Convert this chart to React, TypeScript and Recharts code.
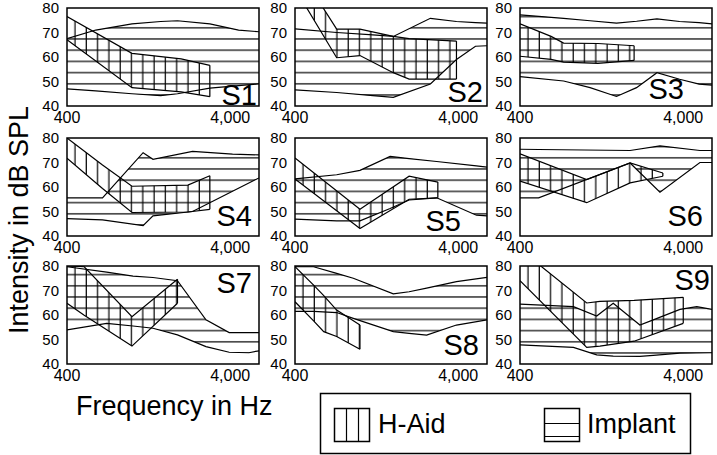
import React from 'react';
import { ComposedChart, Area, XAxis, YAxis, ReferenceArea, ReferenceLine } from 'recharts';

type Pt = { f: number; lo: number; hi: number };

// H-Aid and Implant ranges per subject: frequency (Hz), lower and upper dB SPL
const s1Aid: Pt[] = [
  { f: 400, lo: 67, hi: 76.5 },
  { f: 1000, lo: 47.5, hi: 61.5 },
  { f: 2000, lo: 45.8, hi: 59.2 },
  { f: 3000, lo: 43.8, hi: 56.6 },
];
const s1Imp: Pt[] = [
  { f: 400, lo: 47, hi: 67.5 },
  { f: 600, lo: 46.2, hi: 71 },
  { f: 1000, lo: 45, hi: 73.5 },
  { f: 1500, lo: 44.2, hi: 74.5 },
  { f: 1900, lo: 45, hi: 74.8 },
  { f: 3000, lo: 47.3, hi: 73.5 },
  { f: 4500, lo: 48.3, hi: 71 },
  { f: 6000, lo: 49, hi: 70.3 },
];

const s2Aid: Pt[] = [
  { f: 400, lo: 88, hi: 98 },
  { f: 720, lo: 59.7, hi: 71.4 },
  { f: 1000, lo: 60.6, hi: 71.4 },
  { f: 1600, lo: 53.6, hi: 68.4 },
  { f: 2000, lo: 51, hi: 67.5 },
  { f: 3900, lo: 51, hi: 66.5 },
];
const s2Imp: Pt[] = [
  { f: 400, lo: 46.6, hi: 71.5 },
  { f: 720, lo: 45.5, hi: 70 },
  { f: 1200, lo: 44.2, hi: 69 },
  { f: 1600, lo: 43.5, hi: 68.4 },
  { f: 2700, lo: 49, hi: 75.8 },
  { f: 3900, lo: 59, hi: 74.5 },
  { f: 5100, lo: 64.4, hi: 74 },
  { f: 6000, lo: 64.6, hi: 73.8 },
];

const s3Aid: Pt[] = [
  { f: 400, lo: 60.3, hi: 73.5 },
  { f: 620, lo: 59, hi: 68.4 },
  { f: 740, lo: 57.9, hi: 65.7 },
  { f: 1200, lo: 57.4, hi: 65.5 },
  { f: 2000, lo: 58.6, hi: 64.6 },
];
const s3Imp: Pt[] = [
  { f: 400, lo: 52, hi: 77.2 },
  { f: 740, lo: 50.2, hi: 75.8 },
  { f: 1075, lo: 47.5, hi: 74.8 },
  { f: 1560, lo: 43.9, hi: 73.8 },
  { f: 2070, lo: 47.5, hi: 74.6 },
  { f: 2760, lo: 53.6, hi: 75.6 },
  { f: 3800, lo: 50.9, hi: 74.5 },
  { f: 5000, lo: 48.9, hi: 74 },
  { f: 6000, lo: 48.5, hi: 73.5 },
];

const s4Aid: Pt[] = [
  { f: 400, lo: 71.8, hi: 80 },
  { f: 660, lo: 59.4, hi: 69 },
  { f: 1000, lo: 49.6, hi: 60.3 },
  { f: 2200, lo: 49.8, hi: 60.8 },
  { f: 3000, lo: 50.9, hi: 64.6 },
];
const s4Imp: Pt[] = [
  { f: 400, lo: 47.1, hi: 55.6 },
  { f: 660, lo: 46.6, hi: 55.6 },
  { f: 1170, lo: 44.2, hi: 74 },
  { f: 1345, lo: 48.2, hi: 71.3 },
  { f: 2350, lo: 50, hi: 74.5 },
  { f: 4130, lo: 58.3, hi: 73.4 },
  { f: 6000, lo: 63.7, hi: 73.1 },
];

const s5Aid: Pt[] = [
  { f: 400, lo: 63.3, hi: 71.8 },
  { f: 1000, lo: 43.1, hi: 50.9 },
  { f: 2000, lo: 55, hi: 64.4 },
  { f: 3000, lo: 55.6, hi: 62 },
];
const s5Imp: Pt[] = [
  { f: 400, lo: 46.9, hi: 63.3 },
  { f: 720, lo: 46.2, hi: 65 },
  { f: 1000, lo: 46.2, hi: 66.8 },
  { f: 1530, lo: 51.2, hi: 72.5 },
  { f: 2000, lo: 54.7, hi: 71.6 },
  { f: 2950, lo: 55.6, hi: 70.4 },
  { f: 5170, lo: 48.5, hi: 68.6 },
  { f: 6000, lo: 48.2, hi: 68.1 },
];

const s6Aid: Pt[] = [
  { f: 400, lo: 62.4, hi: 73.5 },
  { f: 1025, lo: 53.6, hi: 63 },
  { f: 1890, lo: 61.7, hi: 69.8 },
  { f: 3000, lo: 64.4, hi: 65.7 },
];
const s6Imp: Pt[] = [
  { f: 400, lo: 55.6, hi: 75.4 },
  { f: 520, lo: 55.6, hi: 75.3 },
  { f: 1890, lo: 69.8, hi: 74.9 },
  { f: 2880, lo: 57.9, hi: 76.8 },
  { f: 5060, lo: 70, hi: 74.9 },
  { f: 6000, lo: 70, hi: 74.9 },
];

const s7Aid: Pt[] = [
  { f: 400, lo: 64.8, hi: 80 },
  { f: 510, lo: 59.9, hi: 79.7 },
  { f: 1000, lo: 47.3, hi: 59.3 },
  { f: 1900, lo: 64.8, hi: 74.6 },
];
const s7Imp: Pt[] = [
  { f: 400, lo: 53.9, hi: 79.7 },
  { f: 700, lo: 56.6, hi: 77.5 },
  { f: 1015, lo: 55.5, hi: 75.9 },
  { f: 1345, lo: 54.6, hi: 75.3 },
  { f: 1900, lo: 51.9, hi: 74 },
  { f: 2840, lo: 47.1, hi: 58 },
  { f: 3940, lo: 44.8, hi: 52.8 },
  { f: 5200, lo: 44.6, hi: 52.8 },
  { f: 6000, lo: 45.4, hi: 52.8 },
];

const s8Aid: Pt[] = [
  { f: 400, lo: 65.4, hi: 79.7 },
  { f: 520, lo: 57.6, hi: 72.2 },
  { f: 600, lo: 53.2, hi: 67.9 },
  { f: 720, lo: 51.2, hi: 62 },
  { f: 1000, lo: 46, hi: 55.9 },
];
const s8Imp: Pt[] = [
  { f: 400, lo: 61.5, hi: 79.7 },
  { f: 520, lo: 61.5, hi: 79.7 },
  { f: 720, lo: 61, hi: 77 },
  { f: 910, lo: 58.6, hi: 75 },
  { f: 1600, lo: 53.2, hi: 68.6 },
  { f: 2000, lo: 52.5, hi: 69.5 },
  { f: 2560, lo: 51.8, hi: 71 },
  { f: 3900, lo: 55.9, hi: 73.6 },
  { f: 6000, lo: 58, hi: 75.4 },
];

const s9Aid: Pt[] = [
  { f: 400, lo: 74, hi: 86.8 },
  { f: 1025, lo: 46.8, hi: 64.9 },
  { f: 1235, lo: 47.3, hi: 65.6 },
  { f: 2000, lo: 49.3, hi: 66 },
  { f: 4000, lo: 56.6, hi: 67.2 },
];
const s9Imp: Pt[] = [
  { f: 400, lo: 47.8, hi: 64.4 },
  { f: 850, lo: 46.8, hi: 63.4 },
  { f: 1180, lo: 43.7, hi: 59.6 },
  { f: 1490, lo: 43.2, hi: 64.8 },
  { f: 2170, lo: 43.1, hi: 55.9 },
  { f: 2620, lo: 43.5, hi: 58 },
  { f: 3820, lo: 44.4, hi: 62.3 },
  { f: 4840, lo: 44.5, hi: 63.4 },
  { f: 6000, lo: 44.6, hi: 62.3 },
];

const SUBJECTS = ['S1', 'S2', 'S3', 'S4', 'S5', 'S6', 'S7', 'S8', 'S9'];
const AIDS = [s1Aid, s2Aid, s3Aid, s4Aid, s5Aid, s6Aid, s7Aid, s8Aid, s9Aid];
const IMPS = [s1Imp, s2Imp, s3Imp, s4Imp, s5Imp, s6Imp, s7Imp, s8Imp, s9Imp];
const Y_TICKS = [40, 50, 60, 70, 80];
const X_TICKS = [400, 4000];

const FONT = '"Liberation Sans", Arial, sans-serif';
const COL_X = [67, 295, 520];
const ROW_Y = [8, 138, 266];
const PW = 192;
const PH = 98;
const ML = 45;
const MT = 10;
// subject label placement: [offset from panel right, baseline offset, from top?]
const LABEL_POS: [number, number, boolean][] = [
  [2, -1, false], [4, -4, false], [28, -7, false],
  [7, -10, false], [26, -5, false], [9, -10, false],
  [7, 27, true], [8, -9, false], [2, 24, true],
];

function merge(aid: Pt[], imp: Pt[]) {
  const fs = Array.from(new Set([...aid.map((p) => p.f), ...imp.map((p) => p.f)])).sort((a, b) => a - b);
  return fs.map((f) => {
    const a = aid.find((p) => p.f === f);
    const m = imp.find((p) => p.f === f);
    return { f, aid: a ? [a.lo, a.hi] : null, imp: m ? [m.lo, m.hi] : null };
  });
}

function Panel({ i }: { i: number }) {
  const col = i % 3;
  const row = Math.floor(i / 3);
  const aid = AIDS[i];
  const last = aid[aid.length - 1];
  const data = merge(aid, IMPS[i]);
  return (
    <div style={{ position: 'absolute', left: COL_X[col] - ML, top: ROW_Y[row] - MT }}>
      <ComposedChart width={ML + PW + 10} height={MT + PH + 28} data={data} margin={{ top: MT, right: 10, left: 0, bottom: 0 }}>
        <defs>
          <pattern id={`vh${i}`} patternUnits="userSpaceOnUse" width={11.3} height={10}>
            <line x1={7.8} y1={0} x2={7.8} y2={10} stroke="#000" strokeWidth={1.2} />
          </pattern>
          <pattern id={`hh${i}`} patternUnits="userSpaceOnUse" width={10} height={11.2}>
            <line x1={0} y1={7.4} x2={10} y2={7.4} stroke="#000" strokeWidth={1.2} />
          </pattern>
        </defs>
        <XAxis
          dataKey="f"
          type="number"
          scale="log"
          domain={[400, 6000]}
          allowDataOverflow
          ticks={X_TICKS}
          interval={0}
          tickFormatter={(v: number) => v.toLocaleString('en-US')}
          axisLine={false}
          tickLine={false}
          tickSize={0}
          tickMargin={6}
          height={28}
          tick={{ fontSize: 16, fill: '#000', fontFamily: FONT }}
        />
        <YAxis
          type="number"
          domain={[40, 80]}
          allowDataOverflow
          ticks={Y_TICKS}
          interval={0}
          axisLine={false}
          tickLine={false}
          tickSize={0}
          tickMargin={8}
          width={ML}
          tick={{ fontSize: 15, fill: '#000', fontFamily: FONT }}
        />
        <Area type="linear" dataKey="imp" stroke="#000" strokeWidth={1.2} fill={`url(#hh${i})`} fillOpacity={1}
          connectNulls dot={false} activeDot={false} isAnimationActive={false} />
        <Area type="linear" dataKey="aid" stroke="#000" strokeWidth={1.2} fill={`url(#vh${i})`} fillOpacity={1}
          connectNulls dot={false} activeDot={false} isAnimationActive={false} />
        <ReferenceLine segment={[{ x: last.f, y: last.lo }, { x: last.f, y: last.hi }]} stroke="#000" strokeWidth={1.2} />
        <ReferenceArea x1={400} x2={6000} y1={40} y2={80} fill="none" stroke="#000" strokeWidth={1.5} />
      </ComposedChart>
    </div>
  );
}

export default function App() {
  return (
    <div style={{ position: 'absolute', left: 0, top: 0, width: 717, height: 455, background: '#fff', fontFamily: FONT }}>
      {SUBJECTS.map((s, i) => (
        <Panel key={s} i={i} />
      ))}
      <svg width={717} height={455} style={{ position: 'absolute', left: 0, top: 0, pointerEvents: 'none' }}>
        {SUBJECTS.map((s, i) => {
          const [dx, dy, fromTop] = LABEL_POS[i];
          const col = i % 3;
          const row = Math.floor(i / 3);
          const x = COL_X[col] + PW - dx;
          const y = fromTop ? ROW_Y[row] + dy : ROW_Y[row] + PH + dy;
          return (
            <text key={s} x={x} y={y} textAnchor="end" fontSize={29} fontFamily={FONT} fill="#000">{s}</text>
          );
        })}
        <text transform="translate(28, 220) rotate(-90)" textAnchor="middle" fontSize={27} fontFamily={FONT} fill="#000">
          Intensity in dB SPL
        </text>
        <text x={76} y={415} fontSize={27} fontFamily={FONT} fill="#000">Frequency in Hz</text>
        <rect x={320.5} y={393.5} width={370} height={60} fill="none" stroke="#000" strokeWidth={1.5} />
        <rect x={334.5} y={408.5} width={35} height={33} fill="none" stroke="#000" strokeWidth={1.5} />
        <line x1={346.5} y1={408.5} x2={346.5} y2={441.5} stroke="#000" strokeWidth={1.2} />
        <line x1={358.5} y1={408.5} x2={358.5} y2={441.5} stroke="#000" strokeWidth={1.2} />
        <text x={378} y={433} fontSize={27} fontFamily={FONT} fill="#000">H-Aid</text>
        <rect x={544.5} y={408.5} width={35} height={33} fill="none" stroke="#000" strokeWidth={1.5} />
        <line x1={544.5} y1={423.5} x2={579.5} y2={423.5} stroke="#000" strokeWidth={1.2} />
        <line x1={544.5} y1={436.5} x2={579.5} y2={436.5} stroke="#000" strokeWidth={1.2} />
        <text x={587} y={433} fontSize={27} fontFamily={FONT} fill="#000">Implant</text>
      </svg>
    </div>
  );
}
